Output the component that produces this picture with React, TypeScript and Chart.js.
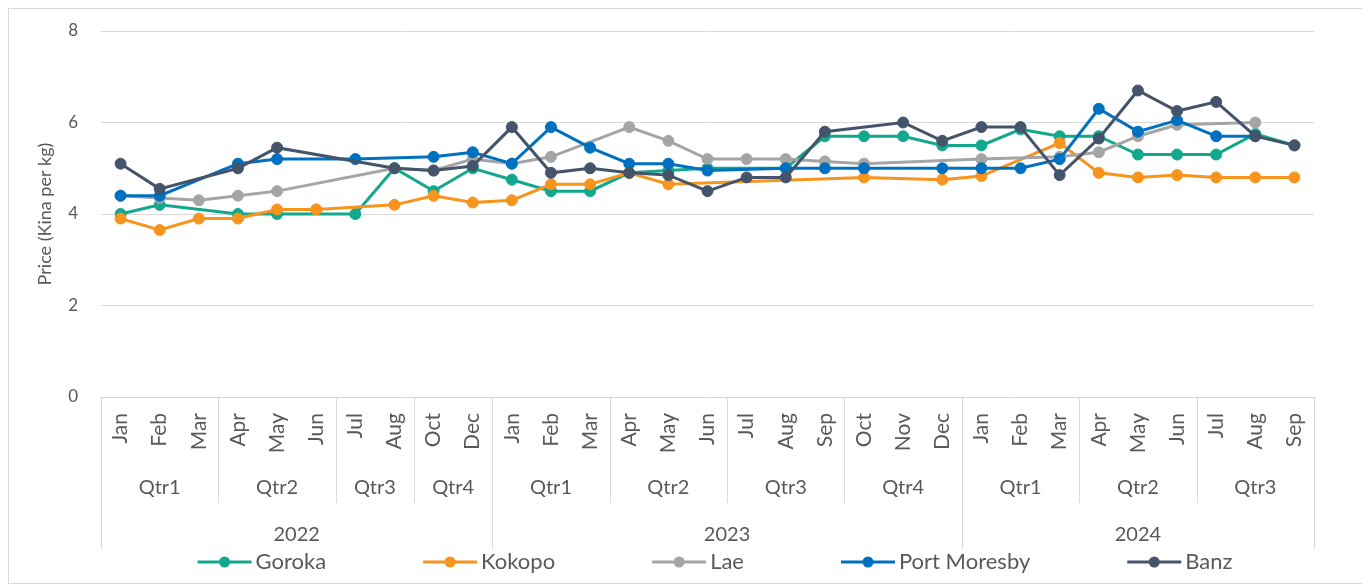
import React, { useEffect, useRef } from 'react';
import { Chart, registerables } from 'chart.js';

Chart.register(...registerables);

// ---------- data ----------
const months = [
  'Jan', 'Feb', 'Mar', 'Apr', 'May', 'Jun', 'Jul', 'Aug', 'Oct', 'Dec',
  'Jan', 'Feb', 'Mar', 'Apr', 'May', 'Jun', 'Jul', 'Aug', 'Sep', 'Oct', 'Nov', 'Dec',
  'Jan', 'Feb', 'Mar', 'Apr', 'May', 'Jun', 'Jul', 'Aug', 'Sep',
];
const quarters = [
  'Qtr1', 'Qtr1', 'Qtr1', 'Qtr2', 'Qtr2', 'Qtr2', 'Qtr3', 'Qtr3', 'Qtr4', 'Qtr4',
  'Qtr1', 'Qtr1', 'Qtr1', 'Qtr2', 'Qtr2', 'Qtr2', 'Qtr3', 'Qtr3', 'Qtr3', 'Qtr4', 'Qtr4', 'Qtr4',
  'Qtr1', 'Qtr1', 'Qtr1', 'Qtr2', 'Qtr2', 'Qtr2', 'Qtr3', 'Qtr3', 'Qtr3',
];
const years = [
  '2022', '2022', '2022', '2022', '2022', '2022', '2022', '2022', '2022', '2022',
  '2023', '2023', '2023', '2023', '2023', '2023', '2023', '2023', '2023', '2023', '2023', '2023',
  '2024', '2024', '2024', '2024', '2024', '2024', '2024', '2024', '2024',
];

const seriesNames = ['Goroka', 'Kokopo', 'Lae', 'Port Moresby', 'Banz'];

const goroka = [
  4.0, 4.2, null, 4.0, 4.0, null, 4.0, 5.0, 4.5, 5.0,
  4.75, 4.5, 4.5, 4.9, 4.95, 5.0, null, 5.0, 5.7, 5.7, 5.7, 5.5,
  5.5, 5.85, 5.7, 5.7, 5.3, 5.3, 5.3, 5.75, 5.5,
];
const kokopo = [
  3.9, 3.65, 3.9, 3.9, 4.1, 4.1, null, 4.2, 4.4, 4.25,
  4.3, 4.65, 4.65, 4.9, 4.65, null, null, null, null, 4.8, null, 4.75,
  4.83, null, 5.55, 4.9, 4.8, 4.85, 4.8, 4.8, 4.8,
];
const lae = [
  4.4, 4.35, 4.3, 4.4, 4.5, null, null, 5.0, 4.95, 5.2,
  5.1, 5.25, null, 5.9, 5.6, 5.2, 5.2, 5.2, 5.15, 5.1, null, null,
  5.2, null, 5.25, 5.35, 5.7, 5.95, null, 6.0, null,
];
const portMoresby = [
  4.4, 4.4, null, 5.1, 5.2, null, 5.2, null, 5.25, 5.35,
  5.1, 5.9, 5.45, 5.1, 5.1, 4.95, null, 5.0, 5.0, 5.0, null, 5.0,
  5.0, 5.0, 5.2, 6.3, 5.8, 6.05, 5.7, 5.7, null,
];
const banz = [
  5.1, 4.55, null, 5.0, 5.45, null, null, 5.0, 4.95, 5.05,
  5.9, 4.9, 5.0, 4.9, 4.85, 4.5, 4.8, 4.8, 5.8, null, 6.0, 5.6,
  5.9, 5.9, 4.85, 5.65, 6.7, 6.25, 6.45, 5.7, 5.5,
];

const seriesValues = [goroka, kokopo, lae, portMoresby, banz];
const seriesColors = ['#12A88D', '#F7941D', '#A5A5A5', '#0070C0', '#44546A'];

const yMin = 0;
const yMax = 8;
const yStep = 2;
const yTitle = 'Price (Kina per kg)';

// ---------- styles ----------
const FONT = 'Lato, "Open Sans", sans-serif';
const TEXT = '#595959';
const LINE = '#D9D9D9';
const CANVAS_W = 1355;
const CANVAS_H = 574;

type Run = { start: number; end: number; label: string };

function runsOf(keys: string[], labels: string[]): Run[] {
  const out: Run[] = [];
  keys.forEach((k, i) => {
    const last = out[out.length - 1];
    if (last && keys[last.start] === k) last.end = i;
    else out.push({ start: i, end: i, label: labels[i] });
  });
  return out;
}

const multiAxisPlugin = {
  id: 'multiAxis',
  afterDraw(chart: any) {
    const ctx: CanvasRenderingContext2D = chart.ctx;
    const xs = chart.scales.x;
    const area = chart.chartArea;
    const step = xs.getPixelForValue(1) - xs.getPixelForValue(0);
    const leftOf = (i: number) => xs.getPixelForValue(i) - step / 2;
    const rightOf = (i: number) => xs.getPixelForValue(i) + step / 2;

    const monthTop = 404;
    const qCenter = 479;
    const qBottom = 494;
    const yCenter = 526;
    const yBottom = 540;

    ctx.save();
    ctx.fillStyle = TEXT;

    // month labels
    ctx.font = `21px ${FONT}`;
    months.forEach((m, i) => {
      const cx = xs.getPixelForValue(i);
      ctx.save();
      ctx.translate(cx, monthTop);
      ctx.rotate(-Math.PI / 2);
      ctx.textAlign = 'right';
      ctx.textBaseline = 'middle';
      ctx.fillText(m, 0, 0);
      ctx.restore();
    });

    const qRuns = runsOf(years.map((y, i) => y + quarters[i]), quarters);
    const yRuns = runsOf(years, years);

    ctx.strokeStyle = LINE;
    ctx.lineWidth = 1;
    // quarter separators
    qRuns.forEach((r) => {
      const x = Math.round(leftOf(r.start)) + 0.5;
      ctx.beginPath();
      ctx.moveTo(x, area.bottom);
      ctx.lineTo(x, qBottom);
      ctx.stroke();
    });
    // year separators
    const yearEdges = yRuns.map((r) => leftOf(r.start));
    yearEdges.push(rightOf(months.length - 1));
    yearEdges.forEach((ex) => {
      const x = Math.round(ex) + 0.5;
      ctx.beginPath();
      ctx.moveTo(x, area.bottom);
      ctx.lineTo(x, yBottom);
      ctx.stroke();
    });

    ctx.textAlign = 'center';
    ctx.textBaseline = 'middle';
    ctx.font = `20px ${FONT}`;
    qRuns.forEach((r) => {
      ctx.fillText(r.label, (leftOf(r.start) + rightOf(r.end)) / 2, qCenter);
    });
    yRuns.forEach((r) => {
      ctx.fillText(r.label, (leftOf(r.start) + rightOf(r.end)) / 2, yCenter);
    });

    // legend
    const legendY = 553;
    const legendCenter = 706;
    const symW = 54;
    const gapText = 4;
    const gapItem = 97;
    ctx.font = `22px ${FONT}`;
    const widths = seriesNames.map((n) => ctx.measureText(n).width);
    const total =
      widths.reduce((a, w) => a + symW + gapText + w, 0) + gapItem * (seriesNames.length - 1);
    let lx = legendCenter - total / 2;
    seriesNames.forEach((name, i) => {
      ctx.strokeStyle = seriesColors[i];
      ctx.fillStyle = seriesColors[i];
      ctx.lineWidth = 3;
      ctx.beginPath();
      ctx.moveTo(lx, legendY);
      ctx.lineTo(lx + symW, legendY);
      ctx.stroke();
      ctx.beginPath();
      ctx.arc(lx + symW / 2, legendY, 5.5, 0, Math.PI * 2);
      ctx.fill();
      ctx.fillStyle = TEXT;
      ctx.textAlign = 'left';
      ctx.fillText(name, lx + symW + gapText, legendY);
      lx += symW + gapText + widths[i] + gapItem;
    });

    ctx.restore();
  },
};

export default function App() {
  const ref = useRef<HTMLCanvasElement | null>(null);

  useEffect(() => {
    document.documentElement.style.overflow = 'hidden';
    const canvas = ref.current;
    if (!canvas) return;
    const datasets = seriesNames.map((name, i) => ({
      label: name,
      data: seriesValues[i],
      borderColor: seriesColors[i],
      backgroundColor: seriesColors[i],
      pointBackgroundColor: seriesColors[i],
      pointBorderColor: seriesColors[i],
      borderWidth: 3,
      pointRadius: 5.5,
      pointBorderWidth: 1,
      pointHoverRadius: 5.5,
      tension: 0,
      spanGaps: true,
      order: seriesNames.length - 1 - i,
    }));

    const chart = new Chart(canvas, {
      type: 'line',
      data: { labels: months, datasets },
      plugins: [multiAxisPlugin],
      options: {
        animation: false,
        responsive: false,
        maintainAspectRatio: false,
        layout: { padding: { top: 22, right: 50, left: 0, bottom: 0 } },
        plugins: {
          legend: { display: false },
          tooltip: { enabled: false },
        },
        scales: {
          x: {
            type: 'category',
            offset: true,
            grid: { display: false },
            border: { display: false },
            ticks: { display: false },
            afterFit: (s: any) => {
              s.height = 186;
              s.paddingLeft = 0;
              s.paddingRight = 0;
            },
          },
          y: {
            min: yMin,
            max: yMax,
            grid: { color: LINE, lineWidth: 1, drawTicks: false },
            border: { display: false },
            ticks: {
              stepSize: yStep,
              padding: 23,
              color: TEXT,
              font: { family: FONT, size: 17 },
            },
            title: {
              display: true,
              text: yTitle,
              color: TEXT,
              font: { family: FONT, size: 18 },
              padding: { top: 25, bottom: 0 },
            },
            afterFit: (s: any) => {
              s.width = 92;
              s.paddingTop = 0;
              s.paddingBottom = 0;
            },
          },
        },
      },
    });
    return () => chart.destroy();
  }, []);

  return (
    <div
      style={{
        position: 'relative',
        width: 1357,
        height: 576,
        boxSizing: 'border-box',
        border: `1px solid ${LINE}`,
        background: '#fff',
      }}
    >
      <canvas ref={ref} width={CANVAS_W} height={CANVAS_H} style={{ display: 'block' }} />
    </div>
  );
}
